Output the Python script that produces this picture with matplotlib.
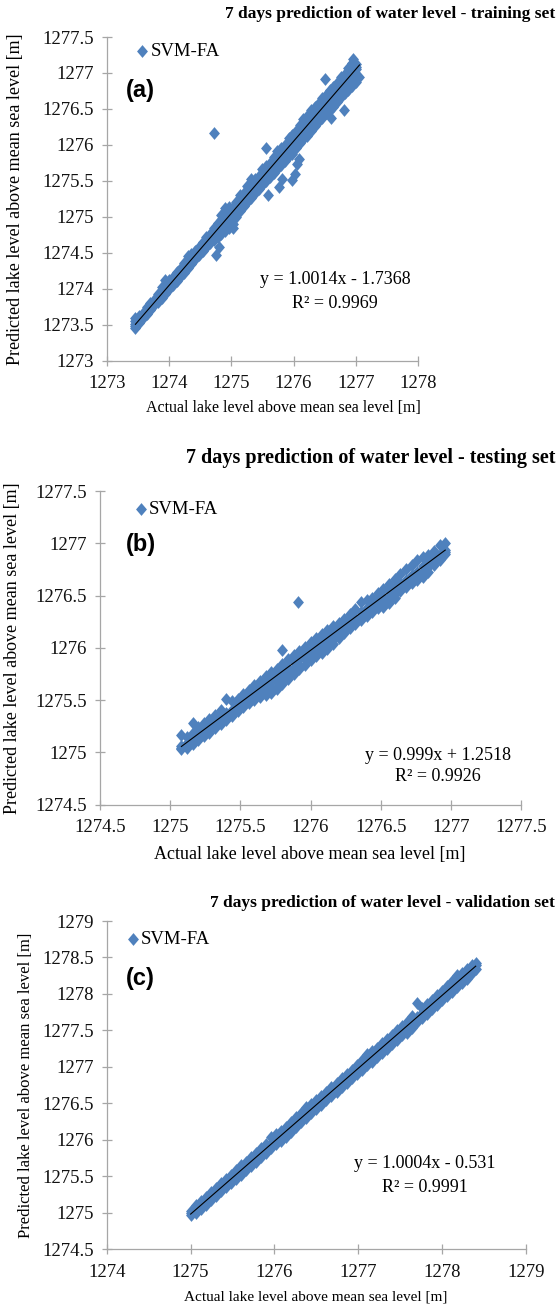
import matplotlib
matplotlib.use('Agg')
import matplotlib.pyplot as plt
from matplotlib.ticker import MultipleLocator, FormatStrFormatter

plt.rcParams['font.family'] = ['Liberation Serif', 'DejaVu Serif']

# ---------------- data ----------------
# (a) training set: actual level and predicted cloud (rows from top edge to bottom edge)
a_act = [1273.46, 1273.52, 1273.58, 1273.64, 1273.70, 1273.76, 1273.82, 1273.88, 1273.94, 1274.00,
         1274.06, 1274.12, 1274.18, 1274.24, 1274.30, 1274.36, 1274.42, 1274.48, 1274.54, 1274.60,
         1274.66, 1274.72, 1274.78, 1274.84, 1274.90, 1274.96, 1275.02, 1275.08, 1275.14, 1275.20,
         1275.26, 1275.32, 1275.38, 1275.44, 1275.50, 1275.56, 1275.62, 1275.68, 1275.74, 1275.80,
         1275.86, 1275.92, 1275.98, 1276.04, 1276.10, 1276.16, 1276.22, 1276.28, 1276.34, 1276.40,
         1276.46, 1276.52, 1276.58, 1276.64, 1276.70, 1276.76, 1276.82, 1276.88, 1276.94, 1277.00]
a_hi = [1273.60, 1273.62, 1273.67, 1273.74, 1273.80, 1273.85, 1273.93, 1274.02, 1274.12, 1274.12,
        1274.16, 1274.24, 1274.28, 1274.36, 1274.45, 1274.49, 1274.53, 1274.58, 1274.65, 1274.72,
        1274.76, 1274.84, 1274.92, 1275.02, 1275.12, 1275.13, 1275.14, 1275.21, 1275.30, 1275.33,
        1275.43, 1275.52, 1275.53, 1275.57, 1275.66, 1275.70, 1275.75, 1275.83, 1275.91, 1275.96,
        1276.00, 1276.10, 1276.14, 1276.19, 1276.27, 1276.36, 1276.40, 1276.49, 1276.53, 1276.57,
        1276.65, 1276.69, 1276.77, 1276.81, 1276.86, 1276.94, 1276.99, 1277.07, 1277.14, 1277.12]
a_q1 = [1273.55, 1273.60, 1273.65, 1273.71, 1273.77, 1273.83, 1273.90, 1273.97, 1274.05, 1274.08,
        1274.13, 1274.20, 1274.25, 1274.32, 1274.40, 1274.45, 1274.50, 1274.55, 1274.62, 1274.68,
        1274.73, 1274.80, 1274.87, 1274.95, 1275.03, 1275.07, 1275.10, 1275.17, 1275.24, 1275.29,
        1275.37, 1275.44, 1275.48, 1275.53, 1275.60, 1275.65, 1275.71, 1275.78, 1275.85, 1275.90,
        1275.95, 1276.03, 1276.08, 1276.14, 1276.21, 1276.28, 1276.33, 1276.41, 1276.46, 1276.51,
        1276.58, 1276.63, 1276.70, 1276.75, 1276.80, 1276.87, 1276.93, 1277.00, 1277.06, 1277.08]
a_mid = [1273.51, 1273.57, 1273.63, 1273.69, 1273.75, 1273.81, 1273.87, 1273.93, 1273.99, 1274.05,
         1274.11, 1274.17, 1274.23, 1274.29, 1274.35, 1274.41, 1274.47, 1274.53, 1274.59, 1274.65,
         1274.71, 1274.77, 1274.83, 1274.89, 1274.95, 1275.01, 1275.07, 1275.13, 1275.19, 1275.25,
         1275.31, 1275.37, 1275.43, 1275.49, 1275.55, 1275.61, 1275.67, 1275.73, 1275.79, 1275.85,
         1275.91, 1275.97, 1276.03, 1276.09, 1276.15, 1276.21, 1276.27, 1276.33, 1276.39, 1276.45,
         1276.51, 1276.57, 1276.63, 1276.69, 1276.75, 1276.81, 1276.87, 1276.93, 1276.99, 1277.05]
a_q3 = [1273.48, 1273.54, 1273.61, 1273.67, 1273.72, 1273.79, 1273.84, 1273.90, 1273.96, 1274.02,
        1274.08, 1274.14, 1274.19, 1274.25, 1274.32, 1274.38, 1274.44, 1274.50, 1274.55, 1274.61,
        1274.67, 1274.72, 1274.77, 1274.82, 1274.87, 1274.92, 1274.98, 1275.06, 1275.13, 1275.20,
        1275.25, 1275.31, 1275.38, 1275.43, 1275.49, 1275.55, 1275.61, 1275.67, 1275.72, 1275.78,
        1275.84, 1275.90, 1275.95, 1276.02, 1276.08, 1276.14, 1276.20, 1276.26, 1276.32, 1276.38,
        1276.44, 1276.50, 1276.55, 1276.60, 1276.67, 1276.73, 1276.79, 1276.85, 1276.90, 1276.96]
a_lo = [1273.45, 1273.52, 1273.59, 1273.65, 1273.70, 1273.77, 1273.82, 1273.87, 1273.93, 1273.99,
        1274.05, 1274.11, 1274.16, 1274.22, 1274.29, 1274.35, 1274.41, 1274.47, 1274.52, 1274.58,
        1274.64, 1274.68, 1274.72, 1274.76, 1274.80, 1274.84, 1274.90, 1275.00, 1275.08, 1275.15,
        1275.20, 1275.26, 1275.33, 1275.38, 1275.44, 1275.50, 1275.55, 1275.61, 1275.66, 1275.72,
        1275.78, 1275.84, 1275.88, 1275.95, 1276.02, 1276.08, 1276.13, 1276.20, 1276.26, 1276.32,
        1276.37, 1276.44, 1276.48, 1276.52, 1276.60, 1276.66, 1276.72, 1276.77, 1276.82, 1276.88]
a_out_x = [1274.72, 1274.76, 1274.80, 1275.02, 1275.56, 1275.59, 1275.77, 1275.81, 1275.97,
           1276.03, 1276.05, 1276.09, 1276.50, 1276.61, 1276.81, 1276.96, 1277.06]
a_out_y = [1276.17, 1274.47, 1274.58, 1274.85, 1275.95, 1275.30, 1275.42, 1275.53, 1275.51,
           1275.60, 1275.74, 1275.81, 1276.92, 1276.37, 1276.49, 1277.20, 1276.95]

# (b) testing set
b_act = [1275.08, 1275.12, 1275.16, 1275.20, 1275.24, 1275.28, 1275.32, 1275.36, 1275.40, 1275.44,
         1275.48, 1275.52, 1275.56, 1275.60, 1275.64, 1275.68, 1275.72, 1275.76, 1275.80, 1275.84,
         1275.88, 1275.92, 1275.96, 1276.00, 1276.04, 1276.08, 1276.12, 1276.16, 1276.20, 1276.24,
         1276.28, 1276.32, 1276.36, 1276.40, 1276.44, 1276.48, 1276.52, 1276.56, 1276.60, 1276.64,
         1276.68, 1276.72, 1276.76, 1276.80, 1276.84, 1276.88, 1276.92, 1276.96]
b_hi = [1275.17, 1275.15, 1275.19, 1275.24, 1275.28, 1275.32, 1275.36, 1275.41, 1275.51, 1275.49,
        1275.51, 1275.56, 1275.60, 1275.64, 1275.68, 1275.73, 1275.77, 1275.80, 1275.85, 1275.89,
        1275.93, 1275.97, 1276.01, 1276.06, 1276.09, 1276.13, 1276.17, 1276.21, 1276.24, 1276.28,
        1276.32, 1276.37, 1276.44, 1276.46, 1276.48, 1276.52, 1276.56, 1276.61, 1276.66, 1276.71,
        1276.75, 1276.79, 1276.84, 1276.87, 1276.89, 1276.93, 1276.98, 1277.00]
b_mid = [1275.06, 1275.09, 1275.13, 1275.18, 1275.21, 1275.26, 1275.29, 1275.34, 1275.38, 1275.41,
         1275.46, 1275.49, 1275.54, 1275.57, 1275.62, 1275.65, 1275.70, 1275.73, 1275.78, 1275.81,
         1275.86, 1275.89, 1275.94, 1275.97, 1276.02, 1276.05, 1276.10, 1276.13, 1276.18, 1276.21,
         1276.26, 1276.29, 1276.34, 1276.38, 1276.41, 1276.46, 1276.49, 1276.54, 1276.57, 1276.62,
         1276.65, 1276.70, 1276.73, 1276.78, 1276.81, 1276.86, 1276.89, 1276.94]
b_q3 = [1275.04, 1275.06, 1275.10, 1275.15, 1275.18, 1275.22, 1275.26, 1275.30, 1275.34, 1275.38,
        1275.43, 1275.46, 1275.50, 1275.53, 1275.57, 1275.60, 1275.63, 1275.67, 1275.71, 1275.75,
        1275.80, 1275.84, 1275.89, 1275.92, 1275.97, 1276.00, 1276.04, 1276.08, 1276.13, 1276.17,
        1276.22, 1276.26, 1276.30, 1276.34, 1276.37, 1276.42, 1276.44, 1276.48, 1276.52, 1276.58,
        1276.61, 1276.66, 1276.69, 1276.73, 1276.77, 1276.82, 1276.86, 1276.92]
b_lo = [1275.03, 1275.04, 1275.08, 1275.12, 1275.16, 1275.19, 1275.23, 1275.27, 1275.31, 1275.35,
        1275.40, 1275.43, 1275.47, 1275.50, 1275.53, 1275.55, 1275.57, 1275.61, 1275.65, 1275.70,
        1275.75, 1275.80, 1275.84, 1275.88, 1275.92, 1275.95, 1275.99, 1276.04, 1276.09, 1276.14,
        1276.19, 1276.23, 1276.27, 1276.30, 1276.34, 1276.38, 1276.39, 1276.43, 1276.48, 1276.54,
        1276.58, 1276.62, 1276.65, 1276.68, 1276.73, 1276.79, 1276.84, 1276.90]
b_out_x = [1275.16, 1275.80, 1275.91]
b_out_y = [1275.28, 1275.98, 1276.44]

# (c) validation set
c_act = [1275.00, 1275.06, 1275.12, 1275.18, 1275.24, 1275.30, 1275.36, 1275.42, 1275.48, 1275.54,
         1275.60, 1275.66, 1275.72, 1275.78, 1275.84, 1275.90, 1275.96, 1276.02, 1276.08, 1276.14,
         1276.20, 1276.26, 1276.32, 1276.38, 1276.44, 1276.50, 1276.56, 1276.62, 1276.68, 1276.74,
         1276.80, 1276.86, 1276.92, 1276.98, 1277.04, 1277.10, 1277.16, 1277.22, 1277.28, 1277.34,
         1277.40, 1277.46, 1277.52, 1277.58, 1277.64, 1277.70, 1277.76, 1277.82, 1277.88, 1277.94,
         1278.00, 1278.06, 1278.12, 1278.18, 1278.24, 1278.30, 1278.36, 1278.40]
c_hi = [1275.02, 1275.10, 1275.16, 1275.22, 1275.28, 1275.34, 1275.40, 1275.46, 1275.52, 1275.59,
        1275.65, 1275.70, 1275.76, 1275.82, 1275.88, 1275.94, 1276.04, 1276.08, 1276.12, 1276.18,
        1276.24, 1276.31, 1276.37, 1276.45, 1276.49, 1276.54, 1276.60, 1276.66, 1276.72, 1276.78,
        1276.84, 1276.90, 1276.96, 1277.02, 1277.09, 1277.17, 1277.21, 1277.26, 1277.32, 1277.38,
        1277.44, 1277.50, 1277.56, 1277.62, 1277.70, 1277.87, 1277.80, 1277.86, 1277.92, 1277.98,
        1278.04, 1278.11, 1278.18, 1278.26, 1278.29, 1278.34, 1278.40, 1278.42]
c_mid = [1274.99, 1275.04, 1275.10, 1275.16, 1275.22, 1275.28, 1275.34, 1275.40, 1275.46, 1275.52,
         1275.58, 1275.64, 1275.70, 1275.76, 1275.82, 1275.88, 1275.94, 1276.00, 1276.06, 1276.12,
         1276.18, 1276.24, 1276.30, 1276.36, 1276.42, 1276.48, 1276.54, 1276.60, 1276.66, 1276.72,
         1276.78, 1276.84, 1276.90, 1276.96, 1277.02, 1277.08, 1277.14, 1277.20, 1277.26, 1277.32,
         1277.38, 1277.44, 1277.50, 1277.56, 1277.62, 1277.68, 1277.74, 1277.80, 1277.86, 1277.92,
         1277.98, 1278.04, 1278.10, 1278.16, 1278.22, 1278.28, 1278.34, 1278.39]
c_lo = [1274.96, 1274.99, 1275.05, 1275.11, 1275.17, 1275.23, 1275.29, 1275.35, 1275.41, 1275.46,
        1275.52, 1275.58, 1275.64, 1275.70, 1275.76, 1275.82, 1275.88, 1275.94, 1275.98, 1276.03,
        1276.10, 1276.18, 1276.24, 1276.30, 1276.36, 1276.42, 1276.48, 1276.54, 1276.60, 1276.66,
        1276.72, 1276.78, 1276.84, 1276.90, 1276.96, 1277.02, 1277.07, 1277.13, 1277.19, 1277.25,
        1277.31, 1277.37, 1277.43, 1277.47, 1277.53, 1277.61, 1277.67, 1277.73, 1277.79, 1277.85,
        1277.91, 1277.97, 1278.03, 1278.09, 1278.15, 1278.21, 1278.28, 1278.34]

# trend line coefficients and texts as printed on the chart
a_fit = (1.0014, -1.7368)
b_fit = (0.999, 1.2518)
c_fit = (1.0004, -0.531)
a_eq = ['y = 1.0014x - 1.7368', 'R² = 0.9969']
b_eq = ['y = 0.999x + 1.2518', 'R² = 0.9926']
c_eq = ['y = 1.0004x - 0.531', 'R² = 0.9991']
titles = ['7 days prediction of water level - training set',
          '7 days prediction of water level - testing set',
          '7 days prediction of water level - validation set']
xlab = 'Actual lake level above mean sea level [m]'
ylab = 'Predicted lake level above mean sea level [m]'

# ---------------- drawing ----------------
W, H = 558, 1304
fig = plt.figure(figsize=(W / 100, H / 100), dpi=100)
BLUE = '#4F81BD'
GREY = '#A6A6A6'
DIAMOND = [(0, 1), (0.85, 0), (0, -1), (-0.85, 0)]
MS = 85


def fx(px): return px / W
def fy(py): return 1 - py / H


def panel(box, act, rows, ox, oy, fit, xlim, xstep, ylim, ystep):
    left, top, right, bottom = box
    ax = fig.add_axes([fx(left), fy(bottom), (right - left) / W, (bottom - top) / H])
    kw = dict(marker=DIAMOND, s=MS, color=BLUE, linewidths=0, zorder=2)
    for ys in rows:
        ax.scatter(act, ys, **kw)
    if ox:
        ax.scatter(ox, oy, **kw)
    xs = [min(act + ox), max(act + ox)]
    ax.plot(xs, [fit[0] * x + fit[1] for x in xs], color='black', lw=0.8, zorder=3)
    ax.set_xlim(xlim)
    ax.set_ylim(ylim)
    ax.xaxis.set_major_locator(MultipleLocator(xstep))
    ax.yaxis.set_major_locator(MultipleLocator(ystep))
    ax.xaxis.set_major_formatter(FormatStrFormatter('%g'))
    ax.yaxis.set_major_formatter(FormatStrFormatter('%g'))
    for s in ('top', 'right'):
        ax.spines[s].set_visible(False)
    for s in ('left', 'bottom'):
        ax.spines[s].set_color(GREY)
        ax.spines[s].set_linewidth(0.9)
    ax.tick_params(direction='inout', length=7, width=0.9, color=GREY,
                   labelsize=13.5, labelcolor='#111111')
    ax.tick_params(axis='y', pad=6)
    ax.tick_params(axis='x', pad=7)
    ax.patch.set_alpha(0)
    return ax


def legend(ax, px, py):
    h = ax.scatter([], [], marker=DIAMOND, s=MS, color=BLUE, linewidths=0)
    ax.legend([h], ['SVM-FA'], loc='center left', bbox_to_anchor=(fx(px), fy(py)),
              bbox_transform=fig.transFigure, frameon=False, fontsize=13.5,
              handlelength=0.5, handletextpad=0.2, borderpad=0, borderaxespad=0,
              scatterpoints=1)


axa = panel((106.8, 37, 418, 360.7), a_act, (a_hi, a_q1, a_mid, a_q3, a_lo), a_out_x, a_out_y,
            a_fit, (1273, 1278), 1, (1273, 1277.5), 0.5)
axb = panel((100, 491, 521, 804.7), b_act, (b_hi, b_mid, b_q3, b_lo), b_out_x, b_out_y,
            b_fit, (1274.5, 1277.5), 0.5, (1274.5, 1277.5), 0.5)
axc = panel((106.8, 921, 526, 1249), c_act, (c_hi, c_mid, c_lo), [], [],
            c_fit, (1274, 1279), 1, (1274.5, 1279), 0.5)

legend(axa, 137.5, 51.7)
legend(axb, 136, 509)
legend(axc, 128, 939)

# titles
fig.text(fx(555), fy(14), titles[0], ha='right', va='center', fontsize=12.5, fontweight='bold')
fig.text(fx(555), fy(458), titles[1], ha='right', va='center', fontsize=14.5, fontweight='bold')
fig.text(fx(555), fy(903), titles[2], ha='right', va='center', fontsize=12.5, fontweight='bold')

# panel tags
for tag, py in (('(a)', 90), ('(b)', 544), ('(c)', 978)):
    fig.text(fx(126), fy(py), tag, ha='left', va='center', fontsize=17, fontweight='bold',
             family=['Liberation Sans', 'DejaVu Sans'])

# axis titles
fig.text(fx(283), fy(408), xlab, ha='center', va='center', fontsize=11.5)
fig.text(fx(310), fy(855), xlab, ha='center', va='center', fontsize=13)
fig.text(fx(316), fy(1297), xlab, ha='center', va='center', fontsize=11)
fig.text(fx(16), fy(199), ylab, ha='center', va='center', rotation=90, fontsize=13)
fig.text(fx(13), fy(648), ylab, ha='center', va='center', rotation=90, fontsize=13)
fig.text(fx(26), fy(1085), ylab, ha='center', va='center', rotation=90, fontsize=12)

# trend line equations
for eq, cx, y1, y2 in ((a_eq, 335, 280, 303), (b_eq, 438, 755, 777), (c_eq, 425, 1164, 1187)):
    fig.text(fx(cx), fy(y1), eq[0], ha='center', va='center', fontsize=13)
    fig.text(fx(cx), fy(y2), eq[1], ha='center', va='center', fontsize=13)

fig.savefig('out.png', dpi=100)
